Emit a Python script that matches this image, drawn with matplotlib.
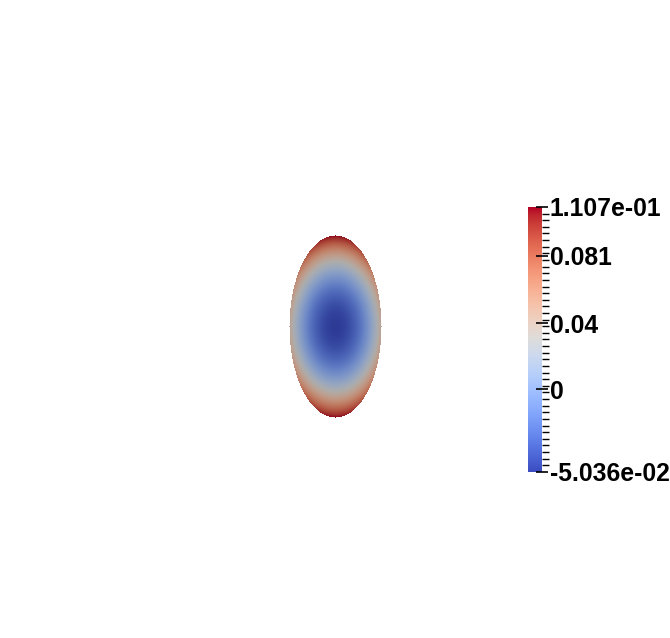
import numpy as np
import matplotlib.pyplot as plt
from matplotlib import colors

# scalar range shown by the colour bar
field_min = -5.036e-02
field_max = 1.107e-01
side_value = 0.045  # value at left/right rim of the ellipse

tick_values = [field_max, 0.081, 0.04, 0.0, field_min]
tick_labels = ["1.107e-01", "0.081", "0.04", "0", "-5.036e-02"]
n_minor = 40

W, H = 670, 638
fig = plt.figure(figsize=(W / 100, H / 100), dpi=100)
ax = fig.add_axes([0, 0, 1, 1])
ax.set_xlim(0, W)
ax.set_ylim(H, 0)
ax.axis("off")

# ellipse in pixel space
cx, cy, rx, ry = 335, 327, 46, 91
xs = np.arange(cx - rx, cx + rx + 1)
ys = np.arange(cy - ry, cy + ry + 1)
X, Y = np.meshgrid(xs, ys)
u = (X - cx) / rx
v = (Y - cy) / ry
r2 = u ** 2 + v ** 2
field = field_min + (side_value - field_min) * u ** 2 + (field_max - field_min) * v ** 2

norm = colors.Normalize(vmin=field_min, vmax=field_max)
cmap = plt.get_cmap("coolwarm")
rgba = cmap(norm(field))
rgba[..., :3] *= 0.78  # rendered surface is a bit darker than the bar
rgba[..., 3] = np.where(r2 > 1.0, 0.0, 1.0)
ax.imshow(rgba, interpolation="nearest",
          extent=(cx - rx - 0.5, cx + rx + 0.5, cy + ry + 0.5, cy - ry - 0.5))

# colour bar
cax = fig.add_axes([528 / W, 1 - 472 / H, 14 / W, 265 / H])
grad = np.linspace(field_min, field_max, 256).reshape(-1, 1)
cax.imshow(grad, cmap=cmap, norm=norm, aspect="auto", origin="lower",
           extent=(0, 1, field_min, field_max))
cax.set_xticks([])
for s in cax.spines.values():
    s.set_visible(False)
cax.yaxis.tick_right()
cax.set_yticks(tick_values)
cax.set_yticklabels(tick_labels, family="Liberation Sans", fontweight="bold",
                    fontsize=17.8)
cax.set_yticks(np.linspace(field_min, field_max, n_minor + 1), minor=True)
cax.tick_params(axis="y", which="major", length=8, width=1.2, direction="inout",
                pad=1.5)
cax.tick_params(axis="y", which="minor", length=5, width=1.0, direction="out")
cax.set_ylim(field_min, field_max)

fig.savefig("out.png", dpi=100, facecolor="white")
